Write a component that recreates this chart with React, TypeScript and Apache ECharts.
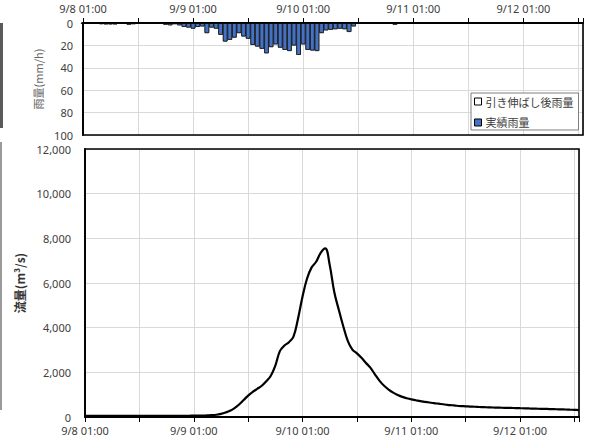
import React, { useEffect, useRef } from "react";
import * as echarts from "echarts";

// hours counted from 9/8 01:00
const startDay = 8;
const xMaxHour = 109;
const rainActual = [
  0.5, 0.5, 0.5, 0.3, 1.0, 1.2, 1.2, 1.2, 0.8, 0.5, 1.5, 1.0, 0, 0, 0, 0, 0, 0.5, 1.5, 2.0,
  1.0, 2.0, 3.5, 4.0, 5.0, 3.5, 3.0, 9.0, 4.0, 5.0, 10.5, 16.5, 15.0, 13.0, 9.0, 12.0, 14.0, 19.5, 21.0, 23.0,
  27.0, 21.5, 19.0, 22.0, 24.0, 25.0, 20.0, 28.5, 19.0, 24.0, 24.5, 25.0, 9.0, 6.5, 6.0, 5.5, 5.0, 5.5, 8.0, 3.0,
  0.3, 0.3, 0.3, 0.3, 0.3, 0.3, 0.3, 0.3, 1.5, 0.3, 0.3,
];
const rainStretched = [
  0.5, 0.5, 0.5, 0.3, 1.0, 1.2, 1.2, 1.2, 0.8, 0.5, 1.5, 1.0, 0, 0, 0, 0, 0, 0.5, 1.5, 2.0,
  1.0, 2.0, 3.5, 4.0, 5.0, 3.5, 3.0, 9.0, 4.0, 5.0, 10.5, 16.5, 15.0, 13.0, 9.0, 12.0, 14.0, 19.5, 21.0, 23.0,
  27.0, 21.5, 19.0, 22.0, 24.0, 25.0, 20.0, 28.5, 19.0, 24.0, 24.5, 25.0, 9.0, 6.5, 6.0, 5.5, 5.0, 5.5, 8.0, 3.0,
  0.3, 0.3, 0.3, 0.3, 0.3, 0.3, 0.3, 0.3, 1.5, 0.3, 0.3,
];
const flow = [
  50, 50, 50, 50, 50, 50, 50, 50, 50, 50, 50, 50, 50, 50, 50, 50, 50, 50, 50, 50,
  50, 50, 50, 55, 60, 60, 65, 70, 80, 100, 140, 200, 280, 400, 560, 760, 960, 1120, 1260, 1400,
  1600, 1850, 2300, 2950, 3200, 3350, 3600, 4400, 5400, 6200, 6700, 6950, 7350, 7550, 6800, 5600, 4800, 4050, 3400, 3020,
  2850, 2650, 2420, 2200, 1900, 1620, 1400, 1230, 1090, 980, 900, 840, 790, 750, 710, 680, 650, 620, 595, 570,
  545, 525, 505, 490, 478, 468, 458, 448, 440, 432, 425, 420, 415, 410, 405, 400, 395, 390, 382, 376,
  370, 365, 360, 352, 346, 340, 335, 327, 320, 312,
];
const rainTicks = [0, 20, 40, 60, 80, 100];
const flowTicks = [0, 2000, 4000, 6000, 8000, 10000, 12000];

const labelColor = "#404040";
const gridColor = "#d9d9d9";
const latin = "'Noto Sans', 'Noto Sans CJK JP', sans-serif";
const cjk = "'Noto Sans CJK JP', sans-serif";

function hourLabel(v: number) {
  if (v % 24 !== 0) return "";
  return `9/${startDay + v / 24} 01:00`;
}

export default function App() {
  const ref = useRef<HTMLDivElement>(null);
  useEffect(() => {
    if (!ref.current) return;
    const chart = echarts.init(ref.current, undefined, { renderer: "svg" });
    const top = { left: 83, top: 23, width: 500, height: 112 };
    const bot = { left: 85, top: 149, width: 494, height: 268 };
    const xCommon = {
      type: "value",
      min: 0,
      max: xMaxHour,
      interval: 12,
      axisLine: { show: true, lineStyle: { color: "#000", width: 1.8 } },
      axisTick: { show: true, length: 5, lineStyle: { color: "#000", width: 1 } },
      splitLine: { show: true, lineStyle: { color: gridColor, width: 1 } },
    };
    chart.setOption({
      animation: false,
      grid: [
        { ...top, show: false },
        { ...bot, show: false },
      ],
      xAxis: [
        {
          ...xCommon,
          gridIndex: 0,
          position: "top",
          axisLabel: {
            formatter: hourLabel,
            color: labelColor,
            fontSize: 11,
            fontFamily: latin,
            margin: 9,
          },
        },
        {
          ...xCommon,
          gridIndex: 1,
          position: "bottom",
          axisLabel: {
            formatter: hourLabel,
            color: labelColor,
            fontSize: 11,
            fontFamily: latin,
            margin: 8,
          },
        },
      ],
      yAxis: [
        {
          type: "value",
          gridIndex: 0,
          inverse: true,
          min: rainTicks[0],
          max: rainTicks[rainTicks.length - 1],
          interval: 20,
          name: "雨量(mm/h)",
          nameLocation: "middle",
          nameGap: 29,
          nameTextStyle: { color: "#666", fontSize: 11, fontFamily: cjk },
          axisLine: { show: true, lineStyle: { color: "#000", width: 1.8 } },
          axisTick: { show: false },
          axisLabel: { color: labelColor, fontSize: 11, fontFamily: latin, margin: 10 },
          splitLine: { show: true, lineStyle: { color: gridColor, width: 1 } },
        },
        {
          type: "value",
          gridIndex: 1,
          min: flowTicks[0],
          max: flowTicks[flowTicks.length - 1],
          interval: 2000,
          name: "流量(m³/s)",
          nameLocation: "middle",
          nameGap: 52,
          nameTextStyle: { color: "#333", fontSize: 12, fontFamily: cjk, fontWeight: "bold" },
          axisLine: { show: true, lineStyle: { color: "#000", width: 1.8 } },
          axisTick: { show: false },
          axisLabel: {
            color: labelColor,
            fontSize: 11,
            fontFamily: latin,
            margin: 14,
            formatter: (v: number) => v.toLocaleString("en-US"),
          },
          splitLine: { show: true, lineStyle: { color: gridColor, width: 1 } },
        },
      ],
      legend: {
        left: 471,
        top: 93,
        orient: "vertical",
        width: 100,
        itemWidth: 7,
        itemHeight: 7,
        itemGap: 10,
        padding: [3, 5, 2, 3],
        borderColor: "#7f7f7f",
        borderWidth: 1,
        backgroundColor: "#fff",
        icon: "rect",
        textStyle: { color: labelColor, fontSize: 11, fontFamily: cjk, padding: [0, 0, 0, -1] },
        data: [
          { name: "引き伸ばし後雨量", itemStyle: { color: "#fff", borderColor: "#000", borderWidth: 1 } },
          { name: "実績雨量", itemStyle: { color: "#4472C4", borderColor: "#000", borderWidth: 1 } },
        ],
      },
      graphic: [
        { type: "rect", z: 100, shape: { x: top.left, y: top.top, width: top.width, height: top.height }, style: { fill: "none", stroke: "#000", lineWidth: 1.6 } },
        { type: "rect", z: 100, shape: { x: bot.left, y: bot.top, width: bot.width, height: bot.height }, style: { fill: "none", stroke: "#000", lineWidth: 1.6 } },
        { type: "rect", z: 100, shape: { x: 0, y: 23, width: 3, height: 105 }, style: { fill: "#5a5a5a" } },
        { type: "rect", z: 100, shape: { x: 0, y: 142, width: 2, height: 268 }, style: { fill: "#9a9a9a" } },
      ],
      series: [
        {
          name: "引き伸ばし後雨量",
          type: "bar",
          xAxisIndex: 0,
          yAxisIndex: 0,
          barWidth: 4.6,
          barGap: "-100%",
          itemStyle: { color: "#fff", borderColor: "#000", borderWidth: 0.8 },
          data: rainStretched.map((v, i) => [i, v]),
        },
        {
          name: "実績雨量",
          type: "bar",
          xAxisIndex: 0,
          yAxisIndex: 0,
          barWidth: 4.6,
          barGap: "-100%",
          itemStyle: { color: "#4472C4", borderColor: "#1a1a1a", borderWidth: 0.8 },
          data: rainActual.map((v, i) => [i, v]),
        },
        {
          name: "流量",
          type: "line",
          xAxisIndex: 1,
          yAxisIndex: 1,
          showSymbol: false,
          smooth: 0.4,
          lineStyle: { color: "#000", width: 2.2 },
          data: flow.map((v, i) => [i, v]),
        },
      ],
    });
    return () => chart.dispose();
  }, []);
  return (
    <div
      ref={ref}
      style={{ position: "absolute", left: 0, top: 0, width: 589, height: 439, background: "#fff" }}
    />
  );
}
